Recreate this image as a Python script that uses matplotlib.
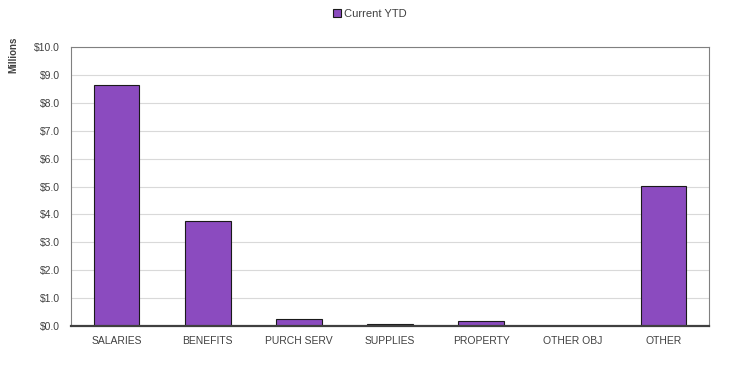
import matplotlib
matplotlib.use("Agg")
import matplotlib.pyplot as plt
from matplotlib.ticker import FuncFormatter

categories = ["SALARIES", "BENEFITS", "PURCH SERV", "SUPPLIES", "PROPERTY", "OTHER OBJ", "OTHER"]
current_ytd = [8.63, 3.77, 0.25, 0.08, 0.17, 0.0, 5.03]
series_name = "Current YTD"

plt.rcParams['font.family'] = ['Liberation Sans', 'DejaVu Sans']

fig = plt.figure(figsize=(7.30, 3.67), dpi=100)
ax = fig.add_axes([71/730, 1-326/367, (709-71)/730, (326-47)/367])

x = range(len(categories))
ax.bar(x, current_ytd, width=0.5, color="#8B4BBF", edgecolor="#1a1a1a", linewidth=0.8,
       label=series_name, zorder=3)
ax.set_xlim(-0.5, len(categories) - 0.5)
ax.set_ylim(0, 10)
ax.set_yticks([i for i in range(11)])
ax.yaxis.set_major_formatter(FuncFormatter(lambda v, p: f"${v:.1f}"))
ax.set_xticks(list(x))
ax.set_xticklabels(categories)
ax.tick_params(axis='both', length=0, labelsize=7.5, colors="#404040")
ax.tick_params(axis='y', pad=8)
ax.tick_params(axis='x', pad=7)
ax.grid(axis='y', color="#d9d9d9", linewidth=0.8, zorder=0)
for s in ['top', 'right', 'left']:
    ax.spines[s].set_color("#808080")
    ax.spines[s].set_linewidth(0.8)
ax.spines['bottom'].set_color("#404040")
ax.spines['bottom'].set_linewidth(1.6)
ax.spines['bottom'].set_zorder(4)

fig.text(13/730, 1-55/367, "Millions", rotation=90, fontsize=7, fontweight='bold',
         color="#404040", ha='center', va='center')

leg = fig.legend(loc='center', bbox_to_anchor=(370/730, 1-14/367), frameon=False,
                 fontsize=8, handlelength=0.7, handleheight=0.7, handletextpad=0.3)
for t in leg.get_texts():
    t.set_color("#404040")

fig.savefig("out.png", dpi=100)
